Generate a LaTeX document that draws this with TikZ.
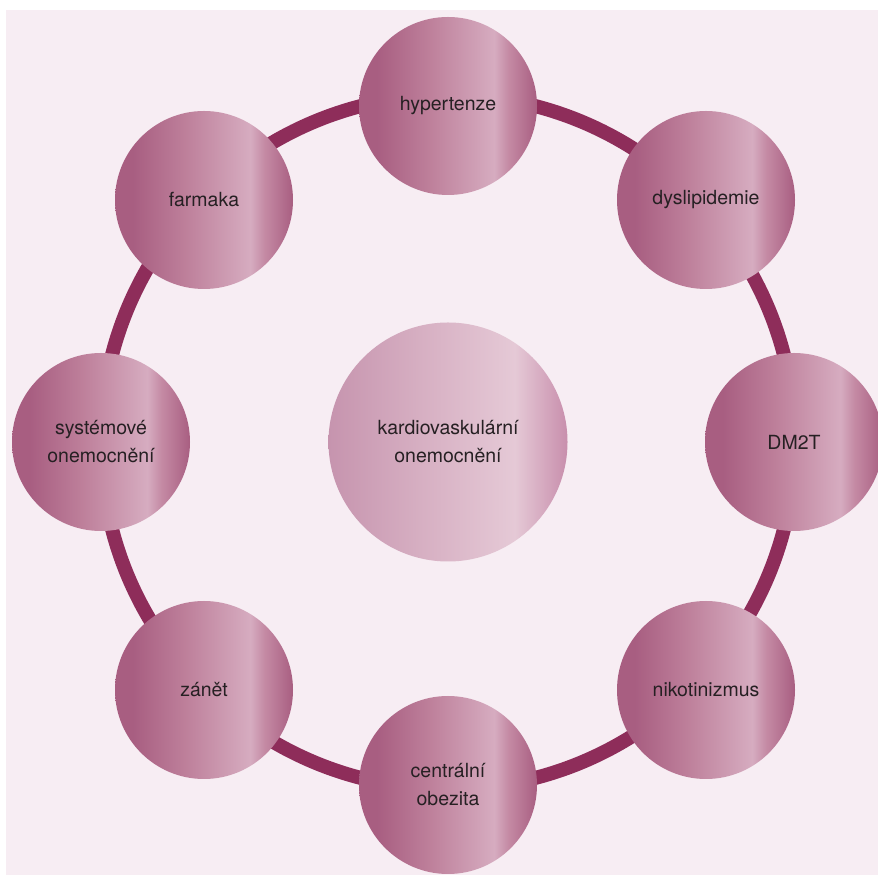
\documentclass[tikz,border=0pt]{standalone}
\usepackage{fontspec}
\setmainfont{TeX Gyre Heros}
\usetikzlibrary{positioning}

\definecolor{bgpink}{RGB}{247,237,243}
\definecolor{ringred}{RGB}{142,45,90}
\definecolor{txtgray}{RGB}{38,32,35}
\definecolor{satA}{RGB}{168,94,129}
\definecolor{satB}{RGB}{190,128,155}
\definecolor{satC}{RGB}{214,172,192}
\definecolor{satD}{RGB}{196,138,164}
\definecolor{cvdA}{RGB}{198,148,174}
\definecolor{cvdB}{RGB}{215,176,195}
\definecolor{cvdC}{RGB}{229,201,214}
\definecolor{cvdD}{RGB}{200,142,172}

\pgfdeclarehorizontalshading{satshade}{100bp}{color(0bp)=(satA); color(25bp)=(satA);
  color(30bp)=(satA); color(45bp)=(satB); color(63bp)=(satC); color(67bp)=(satD);
  color(75bp)=(satA); color(100bp)=(satA)}
\pgfdeclarehorizontalshading{cvdshade}{100bp}{color(0bp)=(cvdA); color(25bp)=(cvdA);
  color(45bp)=(cvdB); color(64bp)=(cvdC); color(75bp)=(cvdD); color(100bp)=(cvdD)}

\begin{document}
\begin{tikzpicture}[x=1pt, y=1pt, on grid, inner sep=0pt,
    sat/.style={circle, minimum size=178pt, shade, shading=satshade, align=center,
      text=txtgray, font=\fontsize{19.5}{28}\selectfont},
    core/.style={sat, minimum size=239pt, shading=cvdshade},
    ring/.style={draw=ringred, line width=14pt}]
    \useasboundingbox (0,0) rectangle (878,875);
    \fill[bgpink] (6,0) rectangle (878,865);

    \coordinate (mid) at (448,433);
    \draw[ring] (mid) circle[radius=347pt];

    \node[core] (cvd) at (mid) {kardiovaskulární\\onemocnění};
    \node[sat, above=336pt of cvd] (hyp) {hypertenze};
    \node[sat, above right=242pt and 258pt of cvd] (dys) {dyslipidemie};
    \node[sat, right=346pt of cvd] (dm) {DM2T};
    \node[sat, below right=248pt and 258pt of cvd] (nik) {nikotinizmus};
    \node[sat, below=343pt of cvd] (obe) {centrální\\obezita};
    \node[sat, below left=248pt and 244pt of cvd] (zan) {zánět};
    \node[sat, left=347pt of cvd] (sys) {systémové\\onemocnění};
    \node[sat, above left=242pt and 244pt of cvd] (far) {farmaka};
\end{tikzpicture}
\end{document}
